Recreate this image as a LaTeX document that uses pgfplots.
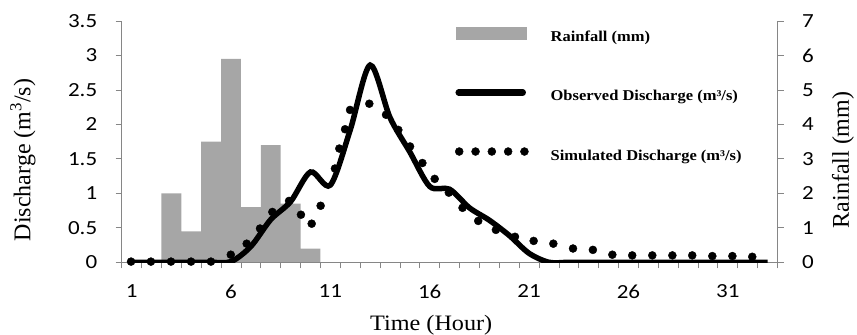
\documentclass[border=0pt]{standalone}
\usepackage{fontspec}
\setmainfont{Liberation Serif}
\newfontfamily\tickfont[FakeStretch=1.15]{Carlito}
\newfontfamily\legfont[FakeStretch=1.1]{Liberation Serif}
\usepackage{pgfplots}
\pgfplotsset{compat=1.18}
\definecolor{axgray}{RGB}{134,134,134}
\definecolor{bargray}{RGB}{166,166,166}
\begin{document}
\begin{tikzpicture}
\pgfplotsset{
  common/.style={scale only axis, width=655.8bp, height=241.3bp,
    xmin=0.5, xmax=33.5,
    axis line style={axgray, line width=1bp},
    tick style={axgray, line width=0.8bp},
    ticklabel style={font=\tickfont\fontsize{20bp}{22bp}\selectfont},
    /pgf/number format/assume math mode=true,
    tick align=outside, major tick length=6bp, minor tick length=6bp,
    label style={font=\fontsize{24bp}{26bp}\selectfont},
  }
}
\begin{axis}[common, name=rain, axis x line=none, axis y line*=right,
  ymin=0, ymax=7, ytick={0,1,2,3,4,5,6,7},
  yticklabel style={xshift=15bp},
  ylabel={Rainfall (mm)},
  ylabel style={at={(axis description cs:1.10,0.424)}, anchor=center, rotate=0}]
\addplot[ybar, bar width=1, fill=bargray, draw=none] coordinates {
(3,2.0) (4,0.9) (5,3.5) (6,5.9) (7,1.6) (8,3.4) (9,1.7) (10,0.4)};
\end{axis}
\begin{axis}[common, axis y line*=left, axis x line*=bottom,
  ymin=0, ymax=3.5, ytick={0,0.5,1,1.5,2,2.5,3,3.5},
  xtick={1,6,11,16,21,26,31}, major x tick style={draw=none},
  minor xtick={0.5,1.5,...,33.5},
  yticklabel style={xshift=-15bp},
  xticklabel style={yshift=-13bp},
  ylabel={Discharge (m\textsuperscript{3}/s)},
  ylabel style={at={(axis description cs:-0.1505,0.424)}, anchor=center},
  xlabel={Time (Hour)},
  xlabel style={at={(axis description cs:0.472,-0.26)}, anchor=center, font=\legfont\fontsize{22bp}{24bp}\selectfont},
  legend cell align=left,
  legend style={draw=none, fill=none, at={(axis description cs:0.508,0.975)},
    anchor=north west, row sep=43bp, inner sep=0pt,
    font=\legfont\bfseries\fontsize{15bp}{17bp}\selectfont,
    /tikz/every odd column/.append style={column sep=20bp}},
]
\addlegendimage{legend image code/.code={\fill[bargray] (0bp,-2bp) rectangle (70bp,10bp);}}
\addlegendentry{Rainfall (mm)}
\addlegendimage{legend image code/.code={\draw[black, line width=6.5bp, line cap=round] (3bp,4bp) -- (67bp,4bp);}}
\addlegendentry{Observed Discharge (m³/s)}
\addlegendimage{legend image code/.code={\foreach \i in {0,1,2,3,4} {\fill[black] (3.5bp+16.3bp*\i,5bp) circle (4bp);}}}
\addlegendentry{Simulated Discharge (m³/s)}
\addplot[black, line width=5.5bp, smooth, forget plot] coordinates {
(1,0) (2,0) (3,0) (4,0) (5,0) (6,0.01) (7,0.23) (8,0.62) (9,0.88) (10,1.31)
(11,1.12) (12,1.92) (13,2.86) (14,2.1) (15,1.6) (16,1.1) (17,1.06) (18,0.79)
(19,0.61) (20,0.39) (21,0.13) (22,0) (23,0) (24,0) (25,0) (26,0) (27,0) (28,0)
(29,0) (30,0) (31,0) (32,0) (33,0)};
\addplot[only marks, mark=*, mark size=4bp, black, forget plot] coordinates {
(0.97,0.01) (1.97,0.01) (2.98,0.01) (3.99,0.01) (4.99,0.01) (5.99,0.11)
(6.79,0.27) (7.46,0.49) (8.08,0.73) (8.92,0.89) (9.52,0.69) (10.06,0.56)
(10.51,0.82) (11.23,1.36) (11.45,1.65) (11.74,1.93) (11.99,2.21) (12.96,2.30)
(13.80,2.14) (14.42,1.92) (15.01,1.68) (15.63,1.44) (16.25,1.21) (16.96,1.01)
(17.65,0.79) (18.44,0.60) (19.33,0.47) (20.29,0.37) (21.23,0.31) (22.22,0.27)
(23.21,0.20) (24.21,0.18) (25.19,0.11) (26.19,0.10) (27.20,0.10) (28.21,0.10)
(29.21,0.10) (30.22,0.09) (31.23,0.09) (32.23,0.08)};
\end{axis}
\pgfresetboundingbox
\path ([xshift=-121.7bp, yshift=-72.7bp]rain.south west) rectangle ([xshift=79.5bp, yshift=21bp]rain.north east);
\end{tikzpicture}
\end{document}
